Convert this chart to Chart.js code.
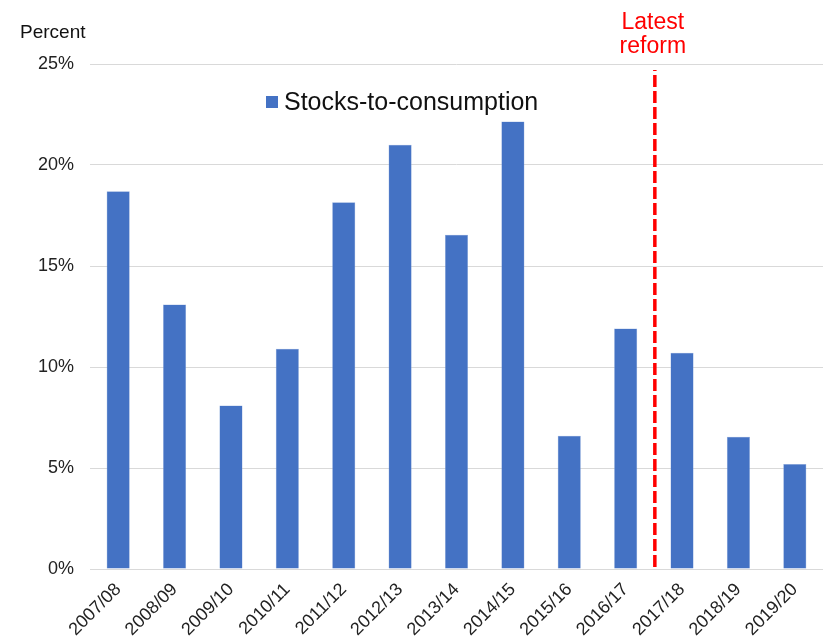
<!DOCTYPE html>
<html>
<head>
<meta charset="utf-8">
<title>Stocks-to-consumption</title>
<script src="https://cdn.jsdelivr.net/npm/chart.js@4.4.1/dist/chart.umd.min.js"></script>
<style>
  body { margin: 0; background: #fff; }
  #wrap { width: 823px; height: 642px; position: relative; }
</style>
</head>
<body>
<div id="wrap"><canvas id="stocksChart"></canvas></div>
<script>
// Data
const seasons = ['2007/08', '2008/09', '2009/10', '2010/11', '2011/12', '2012/13', '2013/14',
                 '2014/15', '2015/16', '2016/17', '2017/18', '2018/19', '2019/20'];
const stocksToConsumption = [18.7, 13.1, 8.1, 10.9, 18.15, 21.0, 16.55, 22.15, 6.6, 11.9, 10.7, 6.55, 5.2];
const yTicks = [0, 5, 10, 15, 20, 25];
const reformAfter = '2016/17';

const fontName = '"Liberation Sans", Arial, sans-serif';

// Extra drawing: axis unit, reform line, legend
const extrasPlugin = {
    id: 'extras',
    afterDatasetsDraw(chart) {
        const ctx = chart.ctx;
        const x = chart.scales.x;
        const area = chart.chartArea;
        ctx.save();

        // unit label
        ctx.fillStyle = '#111';
        ctx.font = '19px ' + fontName;
        ctx.textAlign = 'left';
        ctx.textBaseline = 'alphabetic';
        ctx.fillText('Percent', 20, 38);

        // reform line between two seasons
        const i = seasons.indexOf(reformAfter);
        const lx = (x.getPixelForValue(i) + x.getPixelForValue(i + 1)) / 2 + 1;
        ctx.strokeStyle = '#ff0000';
        ctx.lineWidth = 3.5;
        ctx.setLineDash([12, 4]);
        ctx.lineDashOffset = 11;
        ctx.beginPath();
        ctx.moveTo(lx, area.top + 6);
        ctx.lineTo(lx, area.bottom);
        ctx.stroke();
        ctx.setLineDash([]);

        ctx.fillStyle = '#ff0000';
        ctx.font = '23px ' + fontName;
        ctx.textAlign = 'center';
        ctx.fillText('Latest', lx - 2, 29);
        ctx.fillText('reform', lx - 2, 53);

        // legend
        const ds = chart.data.datasets[0];
        ctx.fillStyle = ds.backgroundColor;
        ctx.fillRect(266, 96, 12, 12);
        ctx.fillStyle = '#111';
        ctx.font = '25px ' + fontName;
        ctx.textAlign = 'left';
        ctx.fillText(ds.label, 284, 110);

        ctx.restore();
    }
};

document.addEventListener('DOMContentLoaded', function() {
    const ctx = document.getElementById('stocksChart').getContext('2d');

    new Chart(ctx, {
        type: 'bar',
        data: {
            labels: seasons,
            datasets: [{
                label: 'Stocks-to-consumption',
                data: stocksToConsumption,
                backgroundColor: '#4472c4',
                borderColor: '#8eaadb',
                borderWidth: 0.5,
                categoryPercentage: 1,
                barPercentage: 0.41
            }]
        },
        options: {
            responsive: true,
            maintainAspectRatio: false,
            animation: false,
            layout: { padding: { top: 64, right: 0, left: 0, bottom: 0 } },
            plugins: {
                legend: { display: false },
                tooltip: { enabled: false }
            },
            scales: {
                x: {
                    grid: { display: false, drawTicks: false },
                    border: { display: true, color: '#d9d9d9', width: 1 },
                    ticks: {
                        color: '#222',
                        font: { family: fontName, size: 18 },
                        minRotation: 45,
                        maxRotation: 45,
                        padding: 10
                    },
                    afterFit(scale) { scale.height = 73; }
                },
                y: {
                    min: 0,
                    max: 25,
                    afterBuildTicks(scale) {
                        scale.ticks = yTicks.map(v => ({ value: v }));
                    },
                    grid: { color: '#d9d9d9', drawTicks: false },
                    border: { display: false },
                    ticks: {
                        color: '#222',
                        font: { family: fontName, size: 18 },
                        padding: 16,
                        callback: v => v + '%'
                    },
                    afterFit(scale) { scale.width = 90; }
                }
            }
        },
        plugins: [extrasPlugin]
    });
});
</script>
</body>
</html>
